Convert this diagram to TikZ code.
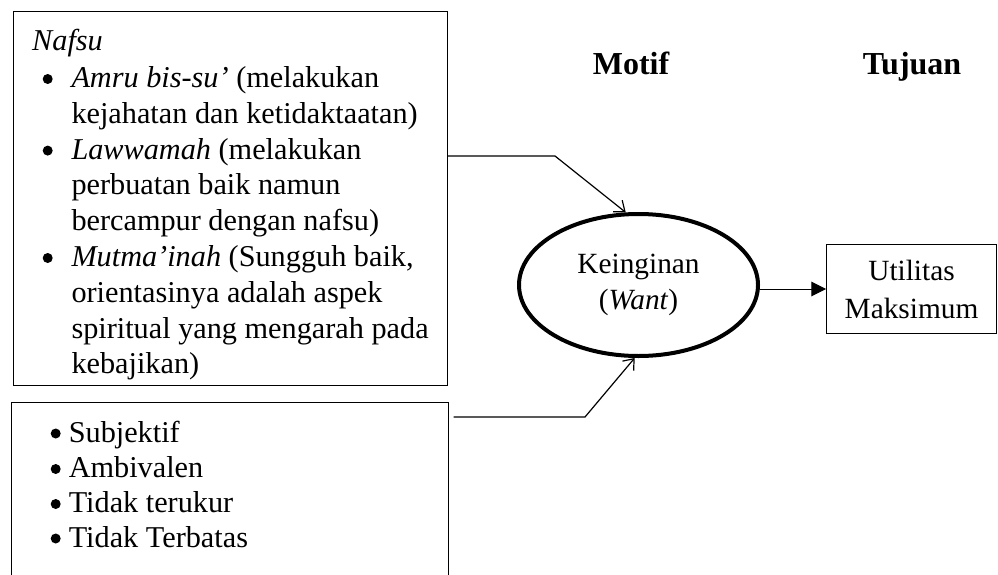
\documentclass[tikz,border=0pt]{standalone}
\usepackage{fontspec}
\setmainfont{Liberation Serif}
\usetikzlibrary{shapes.geometric,arrows.meta}

\tikzset{every picture/.style={line width=0.75pt}}
\tikzset{
  txt/.style={anchor=base west,inner sep=0pt,font=\fontsize{22.7}{27}\selectfont},
  dot/.style={circle,fill,draw=none,inner sep=0pt,minimum size=7.5pt},
  head/.style={anchor=base,inner sep=0pt,font=\fontsize{24}{28}\selectfont\bfseries},
  box/.style={draw,inner sep=0pt},
  conn/.style={line width=0.9pt,-{Straight Barb[length=7pt,width=11pt]}}
}

\begin{document}
\begin{tikzpicture}[x=0.75pt,y=0.75pt,yscale=-1,xscale=1]
\useasboundingbox (0,0) rectangle (998,574);

%Shape: Rectangle [nafsu]
\node (nafsu) [box,minimum width=325.5pt,minimum height=279.75pt] at (230.5,198.5) {};
%Shape: Rectangle [ciri], cut at the bottom
\node (ciri) [box,minimum width=327.75pt,minimum height=178.5pt] at (229.5,521) {};
%Shape: Ellipse [want]
\node (want) [draw,ellipse,line width=3pt,inner sep=0pt,minimum width=179.25pt,minimum height=106.5pt,align=center,font=\fontsize{22}{27.5}\selectfont] at (638.5,285) {Keinginan\\(\textit{Want})};
%Shape: Rectangle [util]
\node (util) [box,minimum width=127.5pt,minimum height=66.75pt,align=center,font=\fontsize{22}{28.5}\selectfont] at (911.5,289) {Utilitas\\Maksimum};

%Connectors
\coordinate (k1) at (555,156);
\coordinate (k2) at (585,417);
\draw [conn] (nafsu.east |- k1) -- (k1) -- (want.100);
\draw [conn,shorten <=3.75pt] (ciri.east |- k2) -- (k2) -- (want.267);
\draw [-{Triangle[length=11pt,width=11pt]}] (want.east |- util) -- (util.west);

% Text Node
\node (motif) [head] at (631,75) {Motif};
\node (tujuan) [head] at (912,75) {Tujuan};

% Text Node
\node (n0) [txt] at (31.7,50.7) {\textit{Nafsu}};
\node (b1) [dot] at (47.7,79) {};
\node (n1) [txt] at (71,87.5) {\textit{Amru bis-su’} (melakukan};
\node (n2) [txt] at (71,123.3) {kejahatan dan ketidaktaatan)};
\node (b2) [dot] at (47.7,150.6) {};
\node (n3) [txt] at (71,159.1) {\textit{Lawwamah} (melakukan};
\node (n4) [txt] at (71,194.9) {perbuatan baik namun};
\node (n5) [txt] at (71,230.7) {bercampur dengan nafsu)};
\node (b3) [dot] at (47.7,258) {};
\node (n6) [txt] at (71,266.5) {\textit{Mutma’inah} (Sungguh baik,};
\node (n7) [txt] at (71,302.3) {orientasinya adalah aspek};
\node (n8) [txt] at (71,338.1) {spiritual yang mengarah pada};
\node (n9) [txt] at (71,373.9) {kebajikan)};

% Text Node
\node (c1) [dot] at (55.7,433.5) {};
\node (s1) [txt] at (68.3,442) {Subjektif};
\node (c2) [dot] at (55.7,469) {};
\node (s2) [txt] at (68.3,477.5) {Ambivalen};
\node (c3) [dot] at (55.7,504) {};
\node (s3) [txt] at (68.3,512.5) {Tidak terukur};
\node (c4) [dot] at (55.7,538.5) {};
\node (s4) [txt] at (68.3,547) {Tidak Terbatas};

\end{tikzpicture}
\end{document}
